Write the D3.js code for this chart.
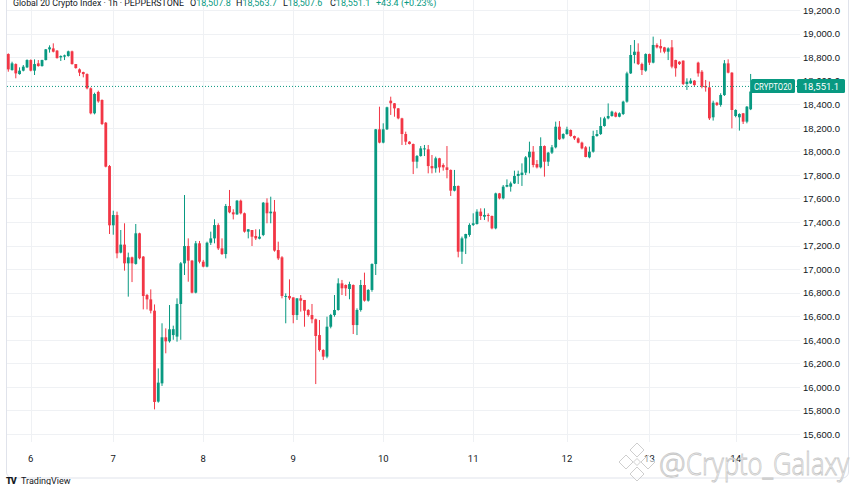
<!DOCTYPE html>
<meta charset="utf-8">
<style>

body {
  margin: 0;
  background: #fff;
  font: 10px Roboto, sans-serif;
}

.grid line {
  stroke: #eff1f4;
  stroke-width: 1px;
}

.axis text {
  fill: #131722;
  font-size: 9.5px;
}

.axis path,
.axis line {
  display: none;
}

</style>
<body>
  <div id="container"></div>
</body>
<script src="https://d3js.org/d3.v7.min.js"></script>
<script>

// hourly candles, Global 20 Crypto Index (PEPPERSTONE), 6th -> 14th
var opens = [
  18826,18690,18741,18656,18685,18713,18775,18685,18747,18724,
  18775,18866,18874,18855,18798,18804,18809,18849,18741,18696,
  18673,18656,18535,18323,18504,18436,18243,17875,17372,17459,
  17140,17208,17049,17100,17044,17304,17106,16780,16743,16647,
  15875,16030,16421,16387,16440,16427,16704,17049,17196,17072,
  16800,17219,17063,17021,17224,17261,17374,17176,17128,17536,
  17482,17465,17581,17474,17318,17332,17281,17258,17290,17564,
  17474,17488,17162,17100,16766,16772,16760,16610,16752,16738,
  16653,16610,16574,16440,16313,16257,16511,16610,16653,16879,
  16865,16831,16865,16525,16653,16865,16732,16823,17043,18187,
  18074,18187,18430,18408,18365,18280,18147,18082,18062,17912,
  17960,18017,18017,17875,17856,17941,17884,17864,17842,17666,
  17706,17148,17261,17290,17375,17383,17488,17445,17460,17451,
  17346,17643,17601,17700,17700,17728,17791,17799,17819,17949,
  17997,17892,17864,18045,17912,17989,18034,18209,18110,18147,
  18181,18130,18110,18074,18034,17949,17997,18130,18147,18215,
  18280,18300,18328,18294,18317,18422,18662,18818,18846,18741,
  18685,18826,18753,18903,18894,18883,18846,18883,18775,18761,
  18770,18572,18577,18600,18753,18676,18555,18543,18289,18413,
  18394,18478,18747,18668,18300,18289,18323,18252,18357,18507.8
];

var highs = [
  18832,18761,18747,18713,18733,18781,18781,18781,18775,18778,
  18869,18900,18917,18860,18815,18821,18855,18855,18741,18704,
  18676,18662,18543,18498,18515,18441,18249,17884,17496,17488,
  17332,17389,17140,17106,17383,17309,17111,16789,16828,16700,
  16157,16540,16497,16695,16520,16752,17060,17629,17261,17078,
  17239,17239,17078,17233,17318,17423,17389,17261,17553,17672,
  17508,17587,17590,17480,17340,17332,17338,17338,17570,17601,
  17615,17587,17233,17110,16794,16913,16760,16752,16780,16738,
  16660,16704,16580,16568,16320,16596,16620,16780,16922,16908,
  16870,16893,16870,16667,16908,16970,16830,17049,18190,18379,
  18238,18379,18464,18410,18368,18285,18167,18086,18066,17969,
  18045,18054,18054,17969,17955,17945,17898,18045,17846,17842,
  17710,17276,17300,17389,17474,17508,17516,17516,17474,17455,
  17649,17647,17714,17762,17743,17836,17836,17898,17960,18082,
  18045,17926,18119,18050,17995,18054,18252,18257,18153,18209,
  18186,18134,18119,18082,18045,18040,18175,18181,18289,18294,
  18407,18345,18337,18331,18430,18676,18903,18945,18917,18753,
  18832,18830,18974,18917,18951,18887,18883,18945,18778,18765,
  18772,18620,18620,18605,18761,18690,18606,18592,18430,18420,
  18493,18775,18781,18672,18357,18323,18326,18385,18657,18563.7
];

var lows = [
  18676,18685,18620,18651,18679,18707,18679,18648,18719,18719,
  18772,18838,18840,18787,18767,18775,18804,18736,18702,18639,
  18628,18526,18314,18314,18413,18223,17864,17298,17292,17092,
  17134,16987,16766,16890,17038,17083,16658,16658,16624,15809,
  15866,16008,16285,16376,16400,16384,16400,16950,16893,16794,
  16794,17049,17015,17015,17205,17219,17162,17120,17091,17474,
  17422,17460,17465,17310,17261,17196,17247,17253,17280,17389,
  17389,17148,17077,16752,16540,16738,16540,16568,16639,16511,
  16596,16540,16024,16300,16228,16243,16497,16596,16647,16780,
  16772,16744,16449,16440,16639,16724,16724,16808,16950,18068,
  18068,18181,18309,18294,18272,18054,18054,18059,17807,17856,
  17955,17960,17813,17813,17819,17819,17836,17771,17621,17660,
  17100,17044,17128,17275,17366,17378,17417,17417,17403,17338,
  17338,17592,17592,17695,17658,17723,17723,17706,17799,17813,
  17864,17855,17855,17785,17875,17977,18025,18096,18102,18141,
  18124,18096,18068,18017,17949,17941,17989,18124,18139,18209,
  18272,18294,18289,18289,18308,18413,18657,18747,18733,18648,
  18676,18733,18747,18874,18838,18832,18775,18705,18634,18733,
  18563,18521,18572,18549,18634,18535,18507,18266,18261,18385,
  18379,18470,18662,18195,18289,18176,18232,18238,18350,18507.6
];

var closes = [
  18696,18747,18662,18685,18719,18775,18685,18741,18724,18775,
  18866,18883,18846,18792,18809,18815,18849,18741,18707,18668,
  18656,18535,18323,18487,18424,18232,17870,17372,17459,17134,
  17208,17049,17100,17049,17304,17092,16772,16743,16647,15872,
  16036,16421,16387,16489,16490,16704,17049,17196,17072,16800,
  17219,17063,17021,17224,17261,17374,17176,17128,17536,17482,
  17465,17581,17474,17318,17338,17275,17261,17275,17564,17474,
  17488,17157,17091,16772,16772,16752,16610,16752,16732,16647,
  16610,16574,16432,16313,16257,16511,16610,16653,16879,16837,
  16837,16873,16525,16653,16865,16732,16823,17043,18187,18074,
  18187,18374,18408,18365,18280,18147,18082,18062,17912,17960,
  18025,18025,17875,17856,17941,17864,17864,17842,17666,17706,
  17148,17261,17298,17375,17389,17488,17451,17460,17451,17346,
  17643,17601,17700,17714,17728,17791,17808,17819,17949,17997,
  17884,17864,18045,17912,17989,18034,18209,18102,18147,18187,
  18130,18110,18074,18025,17952,17997,18130,18147,18215,18280,
  18300,18337,18294,18323,18422,18662,18818,18846,18741,18690,
  18826,18753,18903,18883,18874,18846,18874,18719,18705,18741,
  18572,18591,18600,18563,18662,18549,18543,18280,18413,18394,
  18478,18747,18668,18351,18351,18317,18252,18379,18507.8,18551.1
];

// candle index of each day's first hour, and the day numbers
var dayIndex = [6, 28, 52, 76, 100, 124, 149, 171, 194];
var dayLabels = ["6", "7", "8", "9", "10", "11", "12", "13", "14"];

var priceTicks = d3.range(15600, 19201, 200);
var symbol = "CRYPTO20";
var title = "Global 20 Crypto Index \u00b7 1h \u00b7 PEPPERSTONE";
var ohlcLast = [["O", 18507.8], ["H", 18563.7], ["L", 18507.6], ["C", 18551.1]];
var change = "+43.4 (+0.23%)";

var up = "#089981", down = "#F23645";
var W = 852, H = 485;
var plotRight = 800, plotBottom = 442;

var candles = d3.range(opens.length).map(function(i) {
  return {i: i, o: opens[i], h: highs[i], l: lows[i], c: closes[i]};
});
var last = candles[candles.length - 1];

var x = d3.scaleLinear().domain([0, candles.length - 1]).range([8.3, 754.4]);
var y = d3.scaleLinear().domain([15600, 19200]).range([434, 10]);

var svg = d3.select("#container")
  .append("svg")
    .attr("width", W)
    .attr("height", H);

// grid
var grid = svg.append("g").attr("class", "grid");
grid.selectAll(".h").data(priceTicks).enter().append("line")
  .attr("x1", 7).attr("x2", plotRight)
  .attr("y1", function(d) { return Math.round(y(d)) + 0.5; })
  .attr("y2", function(d) { return Math.round(y(d)) + 0.5; });
grid.selectAll(".v").data(dayIndex).enter().append("line")
  .attr("y1", 0).attr("y2", plotBottom)
  .attr("x1", function(d) { return Math.round(x(d)) + 0.5; })
  .attr("x2", function(d) { return Math.round(x(d)) + 0.5; });

// frame
svg.append("rect")
  .attr("x", 6.5).attr("y", -10)
  .attr("width", 842).attr("height", 488)
  .attr("rx", 6)
  .attr("fill", "none")
  .attr("stroke", "#e0e3eb");

// candles
var g = svg.append("g");
g.selectAll(".wick").data(candles).enter().append("line")
  .attr("x1", function(d) { return x(d.i); })
  .attr("x2", function(d) { return x(d.i); })
  .attr("y1", function(d) { return y(d.h); })
  .attr("y2", function(d) { return y(d.l); })
  .attr("stroke", function(d) { return d.c >= d.o ? up : down; })
  .attr("stroke-width", 1);
g.selectAll(".body").data(candles).enter().append("rect")
  .attr("x", function(d) { return x(d.i) - 1.4; })
  .attr("width", 2.8)
  .attr("y", function(d) { return y(Math.max(d.o, d.c)); })
  .attr("height", function(d) { return Math.max(1, Math.abs(y(d.o) - y(d.c))); })
  .attr("fill", function(d) { return d.c >= d.o ? up : down; });

// last price line
svg.append("line")
  .attr("x1", 7).attr("x2", plotRight)
  .attr("y1", y(last.c)).attr("y2", y(last.c))
  .attr("stroke", up)
  .attr("stroke-dasharray", "1,2");

// price axis
svg.append("g")
  .attr("class", "axis")
  .attr("transform", "translate(" + 800 + ",0)")
  .call(d3.axisRight(y).tickValues(priceTicks).tickSize(0).tickPadding(3)
    .tickFormat(d3.format(",.1f")))
  .selectAll("text").attr("dy", "0.35em");

// time axis
svg.append("g").selectAll("text").data(dayIndex).enter().append("text")
  .attr("x", function(d) { return x(d); })
  .attr("y", 462)
  .attr("text-anchor", "middle")
  .attr("fill", "#131722")
  .style("font-size", "9.5px")
  .text(function(d, i) { return dayLabels[i]; });

// symbol + price labels
var ly = y(last.c);
svg.append("rect")
  .attr("x", 751).attr("y", ly - 7.5).attr("width", 44).attr("height", 14)
  .attr("rx", 1.5).attr("fill", up);
svg.append("text")
  .attr("x", 754).attr("y", ly + 3.3)
  .attr("fill", "#fff")
  .attr("textLength", 38).attr("lengthAdjust", "spacingAndGlyphs")
  .style("font-size", "9px")
  .text(symbol);
svg.append("rect")
  .attr("x", 797).attr("y", ly - 7.5).attr("width", 48).attr("height", 14)
  .attr("rx", 1.5).attr("fill", up);
svg.append("text")
  .attr("x", 821).attr("y", ly + 3.3)
  .attr("text-anchor", "middle").attr("fill", "#fff")
  .style("font-size", "9.5px")
  .text(d3.format(",.1f")(last.c));

// header legend
svg.append("text").attr("x", 13).attr("y", 5.8)
  .attr("textLength", 171).attr("lengthAdjust", "spacingAndGlyphs")
  .style("font-size", "9px").attr("fill", "#131722")
  .text(title);
var head = svg.append("text").attr("y", 5.8)
  .style("font-size", "9px").attr("fill", "#131722");
var segX = [190, 236, 283, 330];
ohlcLast.forEach(function(p, k) {
  head.append("tspan").attr("x", segX[k]).text(p[0]);
  head.append("tspan").attr("fill", up).text(d3.format(",.1f")(p[1]));
});
head.append("tspan").attr("x", 376).attr("fill", up).text(change);

// TradingView mark
svg.append("text").attr("x", 6).attr("y", 484)
  .style("font-size", "9px").style("font-weight", "900")
  .attr("fill", "#131722").attr("letter-spacing", "-1")
  .text("TV");
svg.append("text").attr("x", 21).attr("y", 484)
  .style("font-size", "9px")
  .attr("fill", "#131722")
  .text("TradingView");

// watermark
var wm = svg.append("g").attr("fill", "rgba(255,255,255,0.55)")
  .attr("stroke", "#c8c8c8").attr("stroke-width", 0.9);
[[637, 450, 7], [626, 462, 7], [648, 462, 7], [637, 474, 7], [637, 462, 3.5]].forEach(function(s) {
  wm.append("path")
    .attr("d", "M" + s[0] + "," + (s[1] - s[2]) + "L" + (s[0] + s[2]) + "," + s[1] +
               "L" + s[0] + "," + (s[1] + s[2]) + "L" + (s[0] - s[2]) + "," + s[1] + "Z");
});
wm.append("text").attr("x", 659).attr("y", 474)
  .style("font-size", "30px").style("font-family", "'Open Sans', sans-serif")
  .style("font-weight", "300")
  .text("@");
wm.append("text").attr("x", 686).attr("y", 475)
  .attr("textLength", 163).attr("lengthAdjust", "spacingAndGlyphs")
  .style("font-size", "32px").style("font-family", "'Open Sans', sans-serif")
  .style("font-weight", "300")
  .text("Crypto_Galaxy");

</script>
